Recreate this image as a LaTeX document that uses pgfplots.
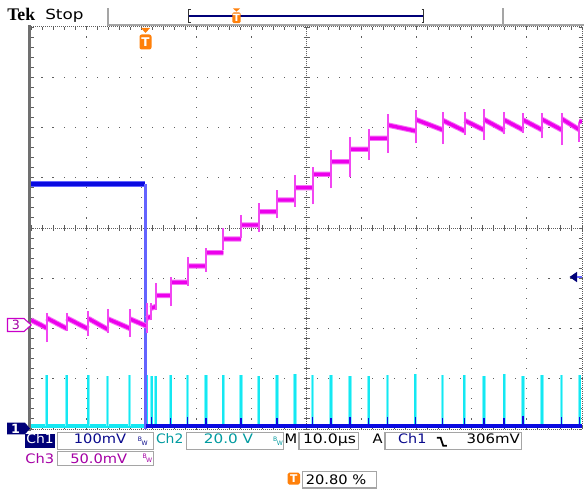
\documentclass[border=0pt]{standalone}
\usepackage{pgfplots}
\usepackage{pgfplotstable}
\pgfplotsset{compat=1.18}
\usepackage{fontspec}
\setmainfont{DejaVu Sans}
\newfontfamily\tekserif{Liberation Serif}
\definecolor{chone}{RGB}{10,10,225}
\definecolor{chonelight}{RGB}{100,100,255}
\definecolor{chtwo}{RGB}{20,232,242}
\definecolor{chtwolight}{RGB}{130,245,250}
\definecolor{chthree}{RGB}{236,0,236}
\definecolor{chthreelight}{RGB}{246,110,246}
\definecolor{chthreespike}{RGB}{242,70,242}
\definecolor{navytxt}{RGB}{10,10,140}
\definecolor{navybox}{RGB}{0,0,120}
\definecolor{tealtxt}{RGB}{0,155,160}
\definecolor{purptxt}{RGB}{165,0,165}
\definecolor{tekorange}{RGB}{255,128,10}
\definecolor{boxgray}{RGB}{165,165,165}
\definecolor{griddot}{RGB}{95,95,95}
\definecolor{bargray}{RGB}{112,112,112}

\pgfplotstableread{
x y
31 320
46.7 328
46.7 nan
46.7 318
66.7 328.5
66.7 nan
66.7 318
88.3 329
88.3 nan
88.3 318.5
108 329.5
108 nan
108 319
130 328.5
130 nan
130 319
146.5 326
146.5 nan
146.5 318.5
150.5 316.5
150.5 nan
150.5 308.5
155.7 306.5
155.7 nan
155.7 295.5
170.7 295.5
170.7 nan
170.7 282.3
187.5 282.3
187.5 nan
187.5 266
205.7 266
205.7 nan
205.7 252.7
223.3 252.7
223.3 nan
223.3 239
241 239
241 nan
241 225
259 225
259 nan
259 211.7
276.7 211.7
276.7 nan
276.7 200
295 200
295 nan
295 187.7
312.7 187.7
312.7 nan
312.7 174.2
331 174.2
331 nan
331 161.7
350 161.7
350 nan
350 149.3
369 149.3
369 nan
369 138.3
387.7 138.3
387.7 nan
387.7 125
415.7 131
415.7 nan
415.7 119.5
443 130
443 nan
443 120.5
464.7 131
464.7 nan
464.7 120.5
484 130
484 nan
484 119.5
504.3 130.5
504.3 nan
504.3 120
523.3 130
523.3 nan
523.3 120
542.3 130
542.3 nan
542.3 119.5
562 130
562 nan
562 119
579 129.5
579 nan
579 121
582 122
}\magtable

\pgfplotstableread{
x y
46.7 342
46.7 313
46.7 nan
66.7 331
66.7 312.7
66.7 nan
88.3 336
88.3 311
88.3 nan
108 333.3
108 309
108 nan
130 336.7
130 309.3
130 nan
146.5 333
146.5 303
146.5 nan
150.5 320
150.5 303
150.5 nan
155.7 310
155.7 283.3
155.7 nan
170.7 306
170.7 276.7
170.7 nan
187.5 286
187.5 257.3
187.5 nan
205.7 271.7
205.7 248.3
205.7 nan
223.3 250
223.3 228.3
223.3 nan
241 238
241 215
241 nan
259 231.7
259 203.3
259 nan
276.7 218
276.7 190
276.7 nan
295 206.7
295 175
295 nan
312.7 204.3
312.7 166.5
312.7 nan
331 188.3
331 150
331 nan
350 176.7
350 137.3
350 nan
369 160
369 129.3
369 nan
387.7 152.7
387.7 114
387.7 nan
415.7 143.3
415.7 110
415.7 nan
443 144
443 111.7
443 nan
464.7 135
464.7 112.3
464.7 nan
484 140
484 109.3
484 nan
504.3 134
504.3 111.7
504.3 nan
523.3 132.7
523.3 113.3
523.3 nan
542.3 138.3
542.3 112.7
542.3 nan
562 145
562 113.3
562 nan
579 141.7
579 123.3
}\magspikes

\pgfplotstableread{
x y
46.7 426
46.7 375
46.7 nan
66.7 426
66.7 375
66.7 nan
88.3 426
88.3 375
88.3 nan
107.5 426
107.5 376
107.5 nan
129.5 426
129.5 375
129.5 nan
146.8 426
146.8 375
146.8 nan
151.7 426
151.7 376
151.7 nan
155.7 426
155.7 376
155.7 nan
170.7 426
170.7 375
170.7 nan
187.5 426
187.5 375
187.5 nan
205.9 426
205.9 375
205.9 nan
223.3 426
223.3 375
223.3 nan
241 426
241 375
241 nan
258.8 426
258.8 376
258.8 nan
277 426
277 375
277 nan
295 426
295 374
295 nan
312.5 426
312.5 375
312.5 nan
331 426
331 375
331 nan
350 426
350 376
350 nan
368.7 426
368.7 376
368.7 nan
387.5 426
387.5 375
387.5 nan
415.3 426
415.3 374
415.3 nan
442.6 426
442.6 375
442.6 nan
464.3 426
464.3 375
464.3 nan
484 426
484 376
484 nan
504.2 426
504.2 374
504.2 nan
523 426
523 376
523 nan
542 426
542 375
542 nan
561.5 426
561.5 375
561.5 nan
579.7 426
579.7 375
}\cyanpulses

\pgfplotstableread{
x y
151.7 426
151.7 417
151.7 nan
170.7 426
170.7 418
170.7 nan
187.5 426
187.5 417
187.5 nan
205.9 426
205.9 418
205.9 nan
241 426
241 418
241 nan
277 426
277 418
277 nan
312.5 426
312.5 416.5
312.5 nan
331 426
331 418
331 nan
350 426
350 417
350 nan
368.7 426
368.7 418
368.7 nan
387.5 426
387.5 416.5
387.5 nan
415.3 426
415.3 417
415.3 nan
442.6 426
442.6 418
442.6 nan
464.3 426
464.3 417.5
464.3 nan
484 426
484 417.5
484 nan
504.2 426
504.2 418
504.2 nan
523 426
523 416
523 nan
561.5 426
561.5 416.5
561.5 nan
579.7 426
579.7 417
}\bluespikes

\tikzset{
  lab/.style={anchor=base, inner sep=0pt, font=\fontsize{9.8}{11}\selectfont, xscale=1.12},
  bw/.style={anchor=base, inner sep=0pt, font=\fontsize{4.6}{5}\selectfont},
}

\begin{document}
\begin{tikzpicture}
\useasboundingbox (0,0) rectangle (438pt,-366pt);
\begin{scope}[x=0.75pt,y=-0.75pt]
\fill[white] (0,0) rectangle (584,488);
% dotted graticule
\foreach \i in {1,2,3,4,6,7,8,9}{
  \foreach \j in {0,...,40}{
    \fill[griddot] ({31+55.1*\i-0.55},{27+10.05*\j-0.55}) rectangle ++(1.1,1.1);
  }
}
\foreach \i in {1,2,3,5,6,7}{
  \foreach \j in {0,...,50}{
    \fill[griddot] ({31+11.02*\j-0.55},{27+50.25*\i-0.55}) rectangle ++(1.1,1.1);
  }
}
% centre lines
\draw[griddot, line width=0.75pt, dash pattern=on 0.75pt off 0.75pt] (306.5,27) -- (306.5,429);
\draw[griddot, line width=0.75pt, dash pattern=on 0.75pt off 0.75pt] (31,228) -- (582,228);
\foreach \j in {0,...,40}{
  \draw[griddot, line width=0.7pt] (303.5,{27+10.05*\j}) -- (309.5,{27+10.05*\j});
  \draw[griddot, line width=0.7pt] (578.5,{27+10.05*\j}) -- (582,{27+10.05*\j});
  \draw[griddot, line width=0.7pt] (31,{27+10.05*\j}) -- (34,{27+10.05*\j});
}
\foreach \j in {0,...,50}{
  \draw[griddot, line width=0.7pt] ({31+11.02*\j},225) -- ({31+11.02*\j},231);
  \draw[griddot, line width=0.7pt] ({31+11.02*\j},27) -- ({31+11.02*\j},30);
  \draw[griddot, line width=0.7pt] ({31+11.02*\j},426) -- ({31+11.02*\j},429);
}
% border
\draw[griddot, line width=0.75pt, dash pattern=on 0.75pt off 0.75pt] (31,27) -- (582,27);
\draw[griddot, line width=0.75pt, dash pattern=on 0.75pt off 0.75pt] (582,27) -- (582,429);
\draw[griddot, line width=0.75pt, dash pattern=on 0.75pt off 0.75pt] (31,429) -- (582,429);
\fill[bargray] (28,25) rectangle (31.2,431);
\end{scope}

\begin{axis}[at={(23.25pt,-321.75pt)}, anchor=south west, scale only axis,
  width=413.25pt, height=301.5pt, xmin=31, xmax=582, ymin=27, ymax=429,
  y dir=reverse, hide axis, unbounded coords=jump, clip=true]
% Ch2 (cyan)
\addplot[chtwo, line width=3.4pt, forget plot] coordinates {(31,426) (582,426)};
\addplot[chtwolight, line width=2.4pt, forget plot] table {\cyanpulses};
\addplot[chtwo, line width=1.3pt, forget plot] table {\cyanpulses};
% Ch1 (blue)
\addplot[chonelight, line width=4.2pt, forget plot] coordinates {(31,184) (145,184)};
\addplot[chone, line width=2.6pt, forget plot] coordinates {(31,184) (145,184)};
\addplot[chonelight, line width=1.6pt, forget plot] coordinates {(145.5,184) (145.5,429)};
\addplot[chone, line width=3.4pt, forget plot] coordinates {(146,426) (582,426)};
\addplot[chone, line width=1.1pt, forget plot] table {\bluespikes};
% Ch3 (magenta)
\addplot[chthreelight, line width=4.0pt, forget plot] table {\magtable};
\addplot[chthree, line width=2.5pt, forget plot] table {\magtable};
\addplot[chthreespike, line width=1.5pt, forget plot] table {\magspikes};
\end{axis}

\begin{scope}[x=0.75pt,y=-0.75pt]
% header
\node[anchor=base west, inner sep=0pt, font=\tekserif\bfseries\fontsize{13.3}{14}\selectfont] at (7,20.3) {Tek};
\node[anchor=base west, inner sep=0pt, font=\fontsize{10.5}{12}\selectfont, xscale=1.2] at (45,20) {Stop};
\fill[boxgray] (107,8) rectangle (109,25);
\fill[boxgray] (502,8) rectangle (504,25);
\fill[boxgray] (107,23.8) rectangle (584,25.6);
\draw[navybox, line width=1pt] (189,16) -- (423,16);
\draw[black!80, line width=1pt] (190.5,9.5) -- (188.5,9.5) -- (188.5,22.5) -- (190.5,22.5);
\draw[black!80, line width=1pt] (421.5,9.5) -- (423.8,9.5) -- (423.8,22.5) -- (421.5,22.5);
% header trigger T
\fill[tekorange] (232.8,8.3) -- (240.2,8.3) -- (236.5,11.6) -- cycle;
\fill[tekorange, rounded corners=1.2pt] (232.3,12.3) rectangle (240.7,23.2);
\node[white, font=\bfseries\fontsize{7.5}{8}\selectfont, inner sep=0pt] at (236.5,17.8) {T};
% plot trigger T
\fill[tekorange] (141,28) -- (150,28) -- (145.5,33) -- cycle;
\fill[tekorange, rounded corners=1.6pt] (139.5,34.5) rectangle (151.5,49.5);
\node[white, font=\bfseries\fontsize{9}{10}\selectfont, inner sep=0pt] at (145.5,42) {T};
% ch3 marker
\filldraw[fill=white, draw=chthree!85!black, line width=0.8pt] (7.5,318.5) -- (24,318.5) -- (31.2,325) -- (24,331.5) -- (7.5,331.5) -- cycle;
\node[purptxt, font=\fontsize{9.5}{10}\selectfont, inner sep=0pt] at (16,325) {3};
% ch1 marker
\fill[navybox] (7,422.7) -- (25,422.7) -- (30,428.5) -- (25,434.3) -- (7,434.3) -- cycle;
\node[white, font=\bfseries\fontsize{9.5}{10}\selectfont, inner sep=0pt] at (15.5,428.5) {1};
% trigger level arrow
\fill[navybox] (569.5,277) -- (577,271.8) -- (577,282.2) -- cycle;
\draw[chonelight, line width=1.6pt] (576.5,277) -- (582,277);
% bottom readouts
\fill[navybox] (25,434) rectangle (55,448.3);
\node[lab, white, xscale=0.95] at (40,443.5) {Ch1};
\draw[boxgray, line width=0.8pt] (57.3,432.7) rectangle (153.3,449.3);
\node[lab, navytxt] at (100,443.5) {100mV};
\node[bw, navytxt] at (140,441.3) {B};
\node[bw, navytxt] at (144.6,445.8) {W};
\node[lab, tealtxt, xscale=0.95] at (169.7,443.5) {Ch2};
\draw[boxgray, line width=0.8pt] (186.7,432.7) rectangle (283.3,449.3);
\node[lab, tealtxt, xscale=1.04] at (228.5,443.5) {20.0 V};
\node[bw, tealtxt] at (275.2,441.3) {B};
\node[bw, tealtxt] at (279.8,445.8) {W};
\node[lab] at (291,443.5) {M};
\draw[boxgray, line width=0.8pt] (299,432.7) rectangle (358.3,449.3);
\node[lab, xscale=1.07] at (329.5,443.5) {10.0µs};
\node[lab] at (377.5,443.5) {A};
\draw[boxgray, line width=0.8pt] (385,432.7) rectangle (521.7,449.3);
\node[lab, navytxt, xscale=0.98] at (412.3,443.5) {Ch1};
\draw[black, line width=1.3pt] (436.8,437.8) -- (440.6,437.8) -- (443.2,445.8) -- (446.8,445.8);
\node[lab, xscale=1.02] at (493.3,443.5) {306mV};
\node[lab, purptxt, xscale=1.0] at (39.7,463.3) {Ch3};
\draw[boxgray, line width=0.8pt] (57.3,451.7) rectangle (153.3,465.5);
\node[lab, purptxt] at (98.8,463.3) {50.0mV};
\node[bw, purptxt] at (144.8,458.3) {B};
\node[bw, purptxt] at (149.2,462.8) {W};
\fill[tekorange, rounded corners=1.2pt] (287.5,472.7) rectangle (300,484.5);
\node[white, font=\bfseries\fontsize{8}{9}\selectfont, inner sep=0pt] at (293.75,478.6) {T};
\draw[boxgray, line width=0.8pt] (302.3,471.7) rectangle (376.7,488);
\node[lab, xscale=1.0] at (336,484) {20.80 \%};
\end{scope}
\end{tikzpicture}
\end{document}
